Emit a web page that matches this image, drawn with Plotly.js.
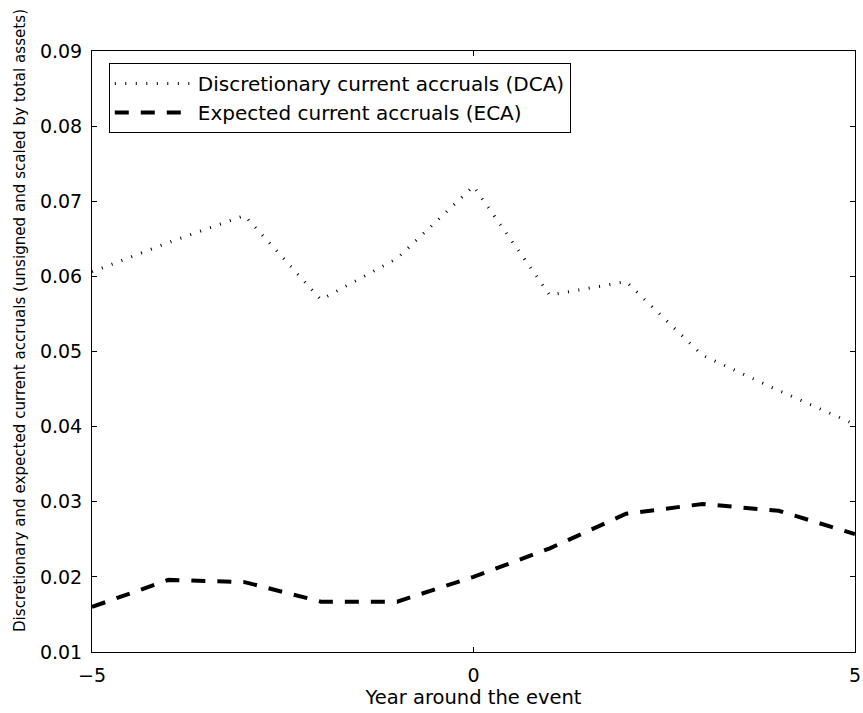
<!DOCTYPE html>
<html>
<head>
<meta charset="utf-8">
<script src="https://cdn.plot.ly/plotly-3.0.1.min.js"></script>
<style>html,body{margin:0;padding:0;background:#fff;}</style>
</head>
<body>
<div id="chart" style="width:863px;height:713px;"></div>
<script>
const years = [-5, -4, -3, -2, -1, 0, 1, 2, 3, 4, 5];
const dca = [0.0606, 0.0645, 0.0681, 0.0569, 0.0624, 0.0720, 0.0575, 0.0593, 0.0495, 0.0448, 0.0403];
const eca = [0.0160, 0.0196, 0.0193, 0.0167, 0.0167, 0.0200, 0.0238, 0.0284, 0.0297, 0.0288, 0.0257];
const xTicks = [-5, 0, 5];
const xTickText = ['\u22125', '0', '5'];
const yTicks = [0.01, 0.02, 0.03, 0.04, 0.05, 0.06, 0.07, 0.08, 0.09];
const yTickText = ['0.01', '0.02', '0.03', '0.04', '0.05', '0.06', '0.07', '0.08', '0.09'];
const yTitle = 'Discretionary and expected current accruals (unsigned and scaled by total assets)';

const font = 'DejaVu Sans, Liberation Sans, Arial, sans-serif';

const traces = [
  {x: years, y: dca, type: 'scatter', mode: 'lines', name: 'Discretionary current accruals (DCA)',
   line: {color: '#000', width: 3, dash: '1px,9.5px'}},
  {x: years, y: eca, type: 'scatter', mode: 'lines', name: 'Expected current accruals (ECA)',
   line: {color: '#000', width: 4, dash: '14px,12px'}}
];

const axisCommon = {
  showgrid: false, zeroline: false, showline: true, linecolor: '#000', linewidth: 1,
  mirror: 'ticks', ticks: 'inside', ticklen: 5, tickcolor: '#000', tickwidth: 1,
  tickfont: {family: font, size: 19, color: '#000'}
};

const ml = 92, mt = 51, mb = 61, H = 713, W = 863, mr = 8;
const plotW = W - ml - mr, plotH = H - mt - mb;

const layout = {
  width: W, height: H,
  margin: {l: ml, r: mr, t: mt, b: mb},
  paper_bgcolor: '#fff', plot_bgcolor: '#fff',
  showlegend: true,
  legend: {x: 0.022, y: 0.98, xanchor: 'left', yanchor: 'top', bgcolor: '#fff',
           bordercolor: '#000', borderwidth: 1, font: {family: font, size: 20, color: '#000'},
           tracegroupgap: 0, itemwidth: 78},
  xaxis: Object.assign({}, axisCommon, {
    range: [-5, 5], tickmode: 'array', tickvals: xTicks, ticktext: xTickText,
    ticklabelstandoff: 6,
    title: {text: 'Year around the event', font: {family: font, size: 19.5, color: '#000'}, standoff: 4}
  }),
  yaxis: Object.assign({}, axisCommon, {
    range: [0.01, 0.09], tickmode: 'array', tickvals: yTicks, ticktext: yTickText,
    ticklabelstandoff: 5
  }),
  annotations: [{
    text: yTitle, xref: 'paper', yref: 'paper',
    x: (20 - ml) / plotW, y: (H - mb - 321) / plotH,
    xanchor: 'center', yanchor: 'middle', textangle: -90, showarrow: false,
    font: {family: font, size: 15.1, color: '#000'}
  }]
};

Plotly.newPlot('chart', traces, layout, {displayModeBar: false, staticPlot: true});
</script>
</body>
</html>
